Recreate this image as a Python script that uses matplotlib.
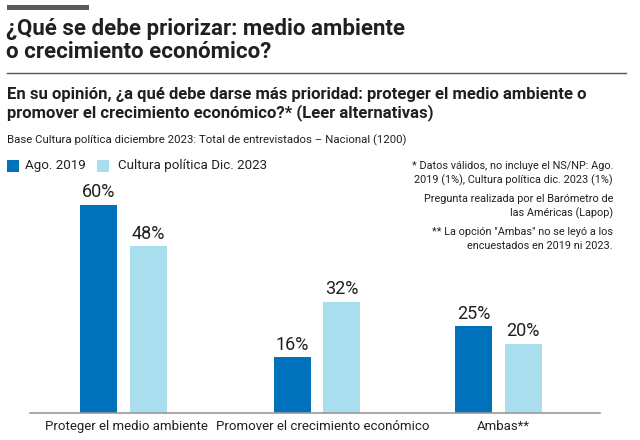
import matplotlib
matplotlib.use("Agg")
import matplotlib.pyplot as plt
from matplotlib.patches import Rectangle
from matplotlib.lines import Line2D
import numpy as np

categories = ["Proteger el medio ambiente", "Promover el crecimiento económico", "Ambas**"]
series_names = ["Ago. 2019", "Cultura política Dic. 2023"]
ago2019 = [60, 16, 25]
dic2023 = [48, 32, 20]

DARK = "#0071BB"
LIGHT = "#A9DEEE"
TXT = "#231F20"
plt.rcParams['font.family'] = ["Roboto", "DejaVu Sans"]

W, H = 640, 440
fig = plt.figure(figsize=(6.4, 4.4), dpi=100)

def fx(px): return px / W
def fy(py): return 1 - py / H

# top gray bar
fig.patches.append(Rectangle((fx(7), fy(10)), fx(82), 4.5 / H, transform=fig.transFigure,
                             color="#5a5a5a", lw=0))
fig.text(fx(6), fy(35), "¿Qué se debe priorizar: medio ambiente", fontsize=16,
         fontweight="bold", color=TXT, va="baseline", ha="left")
fig.text(fx(6), fy(57.5), "o crecimiento económico?", fontsize=16,
         fontweight="bold", color=TXT, va="baseline", ha="left")
fig.lines.append(Line2D([fx(7), fx(626)], [fy(73), fy(73)], transform=fig.transFigure,
                        color="#555555", lw=1))
fig.text(fx(7), fy(98.5), "En su opinión, ¿a qué debe darse más prioridad: proteger el medio ambiente o",
         fontsize=12, fontweight="bold", color=TXT, va="baseline", ha="left")
fig.text(fx(7), fy(117), "promover el crecimiento económico?* (Leer alternativas)",
         fontsize=12, fontweight="bold", color=TXT, va="baseline", ha="left")
fig.text(fx(7), fy(143), "Base Cultura política diciembre 2023: Total de entrevistados – Nacional (1200)",
         fontsize=8.2, color=TXT, va="baseline", ha="left")

# legend
fig.patches.append(Rectangle((fx(7), fy(172)), fx(12), 12 / H, transform=fig.transFigure,
                             color=DARK, lw=0))
fig.text(fx(25), fy(166), series_names[0], fontsize=9.6, color=TXT, va="center", ha="left")
fig.patches.append(Rectangle((fx(97), fy(172)), fx(12), 12 / H, transform=fig.transFigure,
                             color=LIGHT, lw=0))
fig.text(fx(118), fy(166), series_names[1], fontsize=9.6, color=TXT, va="center", ha="left")

# notes
notes = [
    (166, "* Datos válidos, no incluye el NS/NP: Ago."),
    (180, "2019 (1%), Cultura política dic. 2023 (1%)"),
    (199, "Pregunta realizada por el Barómetro de"),
    (213, "las Américas (Lapop)"),
    (232, "** La opción \"Ambas\" no se leyó a los"),
    (246, "encuestados en 2019 ni 2023."),
]
for y, t in notes:
    fig.text(fx(613), fy(y), t, fontsize=7.8, color=TXT, va="center", ha="right")

# axes (x in pixel-like layout units)
ax_left, ax_right, ax_bottom, ax_top = 30, 600, 413, 180
group_centers = np.array([123.5, 317, 498.5])
label_centers = [126, 323, 503]
ax = fig.add_axes([fx(ax_left), fy(ax_bottom), fx(ax_right - ax_left), (ax_bottom - ax_top) / H])
ppu = 3.47
ax.set_xlim(ax_left, ax_right)
ax.set_ylim(0, (ax_bottom - ax_top) / ppu)
bw = 37
off = 24.7
b1 = ax.bar(group_centers - off, ago2019, bw, color=DARK)
b2 = ax.bar(group_centers + off, dic2023, bw, color=LIGHT)
for bars, vals in ((b1, ago2019), (b2, dic2023)):
    for r, v in zip(bars, vals):
        ax.annotate(f"{v}%", (r.get_x() + r.get_width() / 2, v), xytext=(0, 2.5),
                    textcoords="offset points", ha="center", va="bottom",
                    fontsize=13, color=TXT)
for s in ["top", "right", "left"]:
    ax.spines[s].set_visible(False)
ax.spines["bottom"].set_color("#999999")
ax.spines["bottom"].set_linewidth(1.2)
ax.set_yticks([])
ax.set_xticks(label_centers)
ax.set_xticklabels(categories, fontsize=9.5, color=TXT)
ax.tick_params(axis="x", length=0, pad=5)
ax.patch.set_alpha(0)

fig.savefig("out.png", dpi=100)
